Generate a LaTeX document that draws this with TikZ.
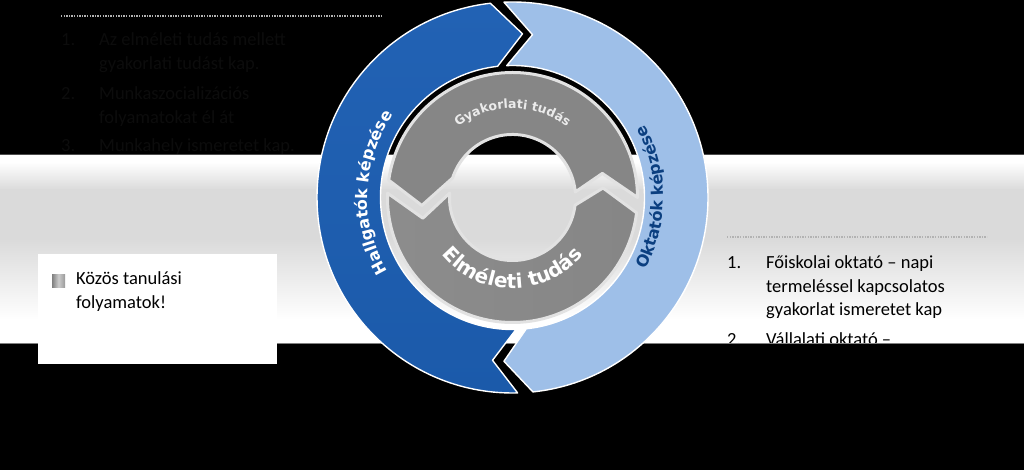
\documentclass[tikz,border=0pt]{standalone}
\usepackage{fontspec}
\setmainfont{Carlito}
\newfontfamily\arcfont{DejaVu Sans}
\usetikzlibrary{calc,positioning,decorations.text}
\definecolor{DeepBlue}{HTML}{2262B4}
\definecolor{MidBlue}{HTML}{4386CF}
\definecolor{LowBlue}{HTML}{1B5AAA}
\definecolor{PaleBlue}{HTML}{9EBFE8}
\definecolor{IceBlue}{HTML}{EEF4FB}
\definecolor{NavyText}{HTML}{0B3F80}
\definecolor{BandGrey}{HTML}{DADADA}
\definecolor{HiddenInk}{HTML}{0C0C0C}
\definecolor{RimGrey}{HTML}{E2E2E2}

\begin{document}
\begin{tikzpicture}[x=1pt,y=1pt,
    bodytext/.style={anchor=base west,inner sep=0pt,align=left,
                     font=\fontsize{18.5}{23.5}\selectfont},
    dotline/.style={gray!60,line width=1.3pt,dash pattern=on 1.3pt off 1.3pt},
    bluearrow/.style={draw=white,line width=1.4pt,line join=round},
    greypiece/.style={draw=RimGrey,line width=3pt,line join=round},
    bulletbox/.style={minimum size=13pt,inner sep=0pt,left color=gray,right color=gray!80,middle color=gray!40},
    arctext/.style={decorate,decoration={text along path,text align=center,text={#1}}}]
  \fill[black] (0,0) rectangle (1024,470);
  \useasboundingbox (0,0) rectangle (1024,470);

  % list hidden on the black part (multi-line nodes sit on their last line)
  \draw[dotline] (61,454) -- (383,454);
  \node[bodytext,text=HiddenInk] (hn1) at (61,424) {1.};
  \node[bodytext,text=HiddenInk] (ht1) at (99,400.5) {Az elméleti tudás mellett\\gyakorlati tudást kap.};
  \node[bodytext,text=HiddenInk] (hn2) at (61,370) {2.};
  \node[bodytext,text=HiddenInk] (ht2) at (99,346.5) {Munkaszocializációs\\folyamatokat él át};
  \node[bodytext,text=HiddenInk] (hn3) at (61,318) {3.};
  \node[bodytext,text=HiddenInk] (ht3) at (99,318) {Munkahely ismeretet kap.};

  % light band
  \fill[white] (0,127) rectangle (1024,315);
  \shade[top color=white,bottom color=BandGrey] (0,280) rectangle (1024,308);
  \fill[BandGrey] (0,231.5) rectangle (1024,280.5);
  \shade[top color=BandGrey,bottom color=white] (0,150) rectangle (1024,232);
  \draw[gray!60!black,line width=1pt] (0,315) -- (1024,315);
  \draw[gray,line width=0.8pt] (0,127) -- (1024,127);

  \begin{scope}
    \clip (700,127) rectangle (1024,470);
    \draw[dotline] (727,233) -- (987,233);
    \node[bodytext] (rn1) at (727,201) {1.};
    \node[bodytext] (rt1) at (766,154) {Főiskolai oktató – napi\\termeléssel kapcsolatos\\gyakorlat ismeretet kap};
    \node[bodytext] (rn2) at (727,124) {2.};
    \node[bodytext] (rt2) at (766,124) {Vállalati oktató –};
  \end{scope}

  \node[fill=white,minimum width=239pt,minimum height=110pt,inner sep=0pt,anchor=north west] (box) at (38,216) {};
  \node[bulletbox] (blt) at (58.5,188.5) {};
  \node[bodytext] (boxt) at (76,161.5) {Közös tanulási\\folyamatok!};

  \begin{scope}[shift={(512.5,272.5)}]
    \path[bluearrow,top color=DeepBlue,middle color=MidBlue,bottom color=LowBlue]
      (271.5:195.5) arc[start angle=271.5,end angle=96.5,radius=195.5] -- (86.5:164)
      -- (96.5:132) arc[start angle=96.5,end angle=271.5,radius=132] -- (263:164) -- cycle;
    \path[bluearrow,top color=PaleBlue,middle color=IceBlue,bottom color=PaleBlue]
      (92.5:195.5) arc[start angle=92.5,end angle=-84,radius=195.5] -- (-93:164)
      -- (-84:132) arc[start angle=-84,end angle=92.5,radius=132] -- (83:164) -- cycle;
    \path[greypiece,left color=gray!95,middle color=gray!65,right color=gray!105!black]
      (0:125) arc[start angle=0,end angle=172,radius=125] -- (185:91)
      -- (162:63) arc[start angle=162,end angle=5,radius=63] -- (15:93) -- cycle;
    \path[greypiece,left color=gray!90,middle color=gray!45,right color=gray!95]
      (178:125) arc[start angle=178,end angle=353,radius=125] -- (6:91)
      -- (353:63) arc[start angle=353,end angle=176,radius=63] -- (193:92) -- cycle;

    \path[arctext={|\arcfont\bfseries\fontsize{16}{16}\selectfont\color{white}|Hallgatók képzése}]
      (216:145) arc[start angle=216,end angle=140,radius=145];
    \path[arctext={|\arcfont\bfseries\fontsize{16}{16}\selectfont\color{NavyText}|Oktatók képzése}]
      (-36:151) arc[start angle=-36,end angle=36,radius=151];
    \path[arctext={|\arcfont\bfseries\fontsize{12.5}{12.5}\selectfont\color{white!92!black}|Gyakorlati tudás}]
      (140:89) arc[start angle=140,end angle=40,radius=89];
    \path[arctext={|\arcfont\bfseries\fontsize{20}{20}\selectfont\color{white}|Elméleti tudás}]
      (208:91) arc[start angle=208,end angle=332,radius=91];
  \end{scope}
\end{tikzpicture}
\end{document}
